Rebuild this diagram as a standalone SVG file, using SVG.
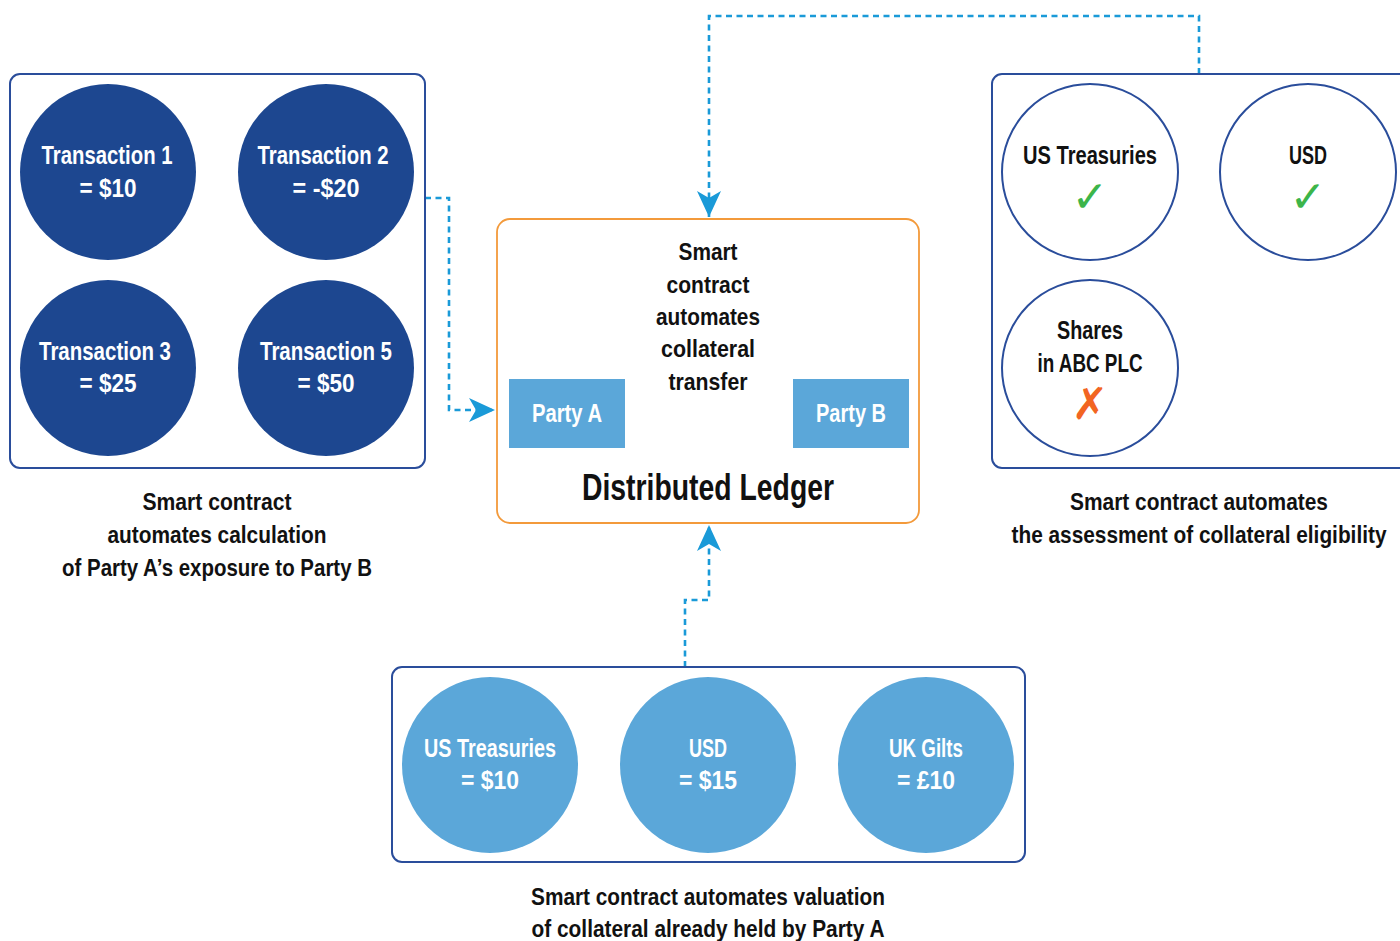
<svg xmlns="http://www.w3.org/2000/svg" width="1400" height="941" viewBox="0 0 1400 941">
<defs>
<style>
.t{font-family:"Liberation Sans",Arial,sans-serif;font-weight:bold;text-anchor:middle}
.w{fill:#ffffff;font-size:26px}
.k{fill:#111111;font-size:24px}
.c{fill:#111111;font-size:24px}
.box{fill:none;stroke:#2a4d9b;stroke-width:2}
.dk{fill:#1d4790}
.lt{fill:#5ba7d9}
.wc{fill:#ffffff;stroke:#2a4d9b;stroke-width:2}
.conn{fill:none;stroke:#1a9ad8;stroke-width:2.6;stroke-dasharray:6 4.5}
.mk{font-family:"DejaVu Sans",sans-serif;font-weight:bold;text-anchor:middle;font-size:44px}
</style>
<marker id="ah" markerUnits="userSpaceOnUse" markerWidth="28" markerHeight="26" refX="26" refY="12" orient="auto">
<path d="M0,0 L26,12 L0,24 L7,12 z" fill="#1a9ad8"/>
</marker>
</defs>
<rect width="1400" height="941" fill="#ffffff"/>

<g id="connectors">
<path class="conn" d="M425,198 H449 V410 H495" marker-end="url(#ah)"/>
<path class="conn" d="M1199,74 V16 H709 V217" marker-end="url(#ah)"/>
<path class="conn" d="M685,667 V600 H709 V525" marker-end="url(#ah)"/>
<path class="conn" d="M793,410 H627" marker-end="url(#ah)"/>
</g>

<g id="exposure-group">
<rect class="box" x="10" y="74" width="415" height="394" rx="10"/>
<text class="t k" x="217" y="510" textLength="149" lengthAdjust="spacingAndGlyphs">Smart contract</text>
<text class="t k" x="217" y="543" textLength="219" lengthAdjust="spacingAndGlyphs">automates calculation</text>
<text class="t k" x="217" y="576" textLength="310" lengthAdjust="spacingAndGlyphs">of Party A’s exposure to Party B</text>
</g>
<g id="tx1"><circle class="dk" cx="108" cy="172" r="88"/><text class="t w" x="107" y="164" textLength="131" lengthAdjust="spacingAndGlyphs">Transaction 1</text><text class="t w" x="108" y="197" textLength="57" lengthAdjust="spacingAndGlyphs">= $10</text></g>
<g id="tx2"><circle class="dk" cx="326" cy="172" r="88"/><text class="t w" x="323" y="164" textLength="131" lengthAdjust="spacingAndGlyphs">Transaction 2</text><text class="t w" x="326" y="197" textLength="67" lengthAdjust="spacingAndGlyphs">= -$20</text></g>
<g id="tx3"><circle class="dk" cx="108" cy="368" r="88"/><text class="t w" x="105" y="360" textLength="132" lengthAdjust="spacingAndGlyphs">Transaction 3</text><text class="t w" x="108" y="392" textLength="57" lengthAdjust="spacingAndGlyphs">= $25</text></g>
<g id="tx5"><circle class="dk" cx="326" cy="368" r="88"/><text class="t w" x="326" y="360" textLength="132" lengthAdjust="spacingAndGlyphs">Transaction 5</text><text class="t w" x="326" y="392" textLength="57" lengthAdjust="spacingAndGlyphs">= $50</text></g>

<g id="ledger">
<rect x="497" y="219" width="422" height="304" rx="13" fill="#ffffff" stroke="#f39a3b" stroke-width="1.8"/>
<text class="t c" x="708" y="260" textLength="59" lengthAdjust="spacingAndGlyphs">Smart</text>
<text class="t c" x="708" y="293" textLength="83" lengthAdjust="spacingAndGlyphs">contract</text>
<text class="t c" x="708" y="325" textLength="104" lengthAdjust="spacingAndGlyphs">automates</text>
<text class="t c" x="708" y="357" textLength="94" lengthAdjust="spacingAndGlyphs">collateral</text>
<text class="t c" x="708" y="390" textLength="79" lengthAdjust="spacingAndGlyphs">transfer</text>
<text class="t" x="708" y="500" style="font-size:37px;fill:#111111" textLength="252" lengthAdjust="spacingAndGlyphs">Distributed Ledger</text>
</g>
<g id="partyA"><rect class="lt" x="509" y="379" width="116" height="69"/><text class="t w" x="567" y="422" textLength="70" lengthAdjust="spacingAndGlyphs">Party A</text></g>
<g id="partyB"><rect class="lt" x="793" y="379" width="116" height="69"/><text class="t w" x="851" y="422" textLength="70" lengthAdjust="spacingAndGlyphs">Party B</text></g>

<g id="eligibility-group">
<rect class="box" x="992" y="74" width="420" height="394" rx="10"/>
<text class="t k" x="1199" y="510" textLength="258" lengthAdjust="spacingAndGlyphs">Smart contract automates</text>
<text class="t k" x="1199" y="543" textLength="375" lengthAdjust="spacingAndGlyphs">the assessment of collateral eligibility</text>
</g>
<g id="el-ust"><circle class="wc" cx="1090" cy="172" r="88"/><text class="t" x="1090" y="164" style="font-size:26px;fill:#111111" textLength="134" lengthAdjust="spacingAndGlyphs">US Treasuries</text><text class="mk" x="1090" y="212" fill="#3cb54a">✓</text></g>
<g id="el-usd"><circle class="wc" cx="1308" cy="172" r="88"/><text class="t" x="1308" y="164" style="font-size:26px;fill:#111111" textLength="38" lengthAdjust="spacingAndGlyphs">USD</text><text class="mk" x="1308" y="212" fill="#3cb54a">✓</text></g>
<g id="el-shares"><circle class="wc" cx="1090" cy="368" r="88"/><text class="t" x="1090" y="339" style="font-size:26px;fill:#111111" textLength="66" lengthAdjust="spacingAndGlyphs">Shares</text><text class="t" x="1090" y="372" style="font-size:26px;fill:#111111" textLength="105" lengthAdjust="spacingAndGlyphs">in ABC PLC</text><text class="mk" x="1090" y="419" fill="#f26522">✗</text></g>

<g id="valuation-group">
<rect class="box" x="392" y="667" width="633" height="195" rx="10"/>
<text class="t k" x="708" y="905" textLength="354" lengthAdjust="spacingAndGlyphs">Smart contract automates valuation</text>
<text class="t k" x="708" y="937" textLength="353" lengthAdjust="spacingAndGlyphs">of collateral already held by Party A</text>
</g>
<g id="val-ust"><circle class="lt" cx="490" cy="765" r="88"/><text class="t w" x="490" y="757" textLength="132" lengthAdjust="spacingAndGlyphs">US Treasuries</text><text class="t w" x="490" y="789" textLength="58" lengthAdjust="spacingAndGlyphs">= $10</text></g>
<g id="val-usd"><circle class="lt" cx="708" cy="765" r="88"/><text class="t w" x="708" y="757" textLength="38" lengthAdjust="spacingAndGlyphs">USD</text><text class="t w" x="708" y="789" textLength="58" lengthAdjust="spacingAndGlyphs">= $15</text></g>
<g id="val-gilts"><circle class="lt" cx="926" cy="765" r="88"/><text class="t w" x="926" y="757" textLength="74" lengthAdjust="spacingAndGlyphs">UK Gilts</text><text class="t w" x="926" y="789" textLength="58" lengthAdjust="spacingAndGlyphs">= £10</text></g>
</svg>
